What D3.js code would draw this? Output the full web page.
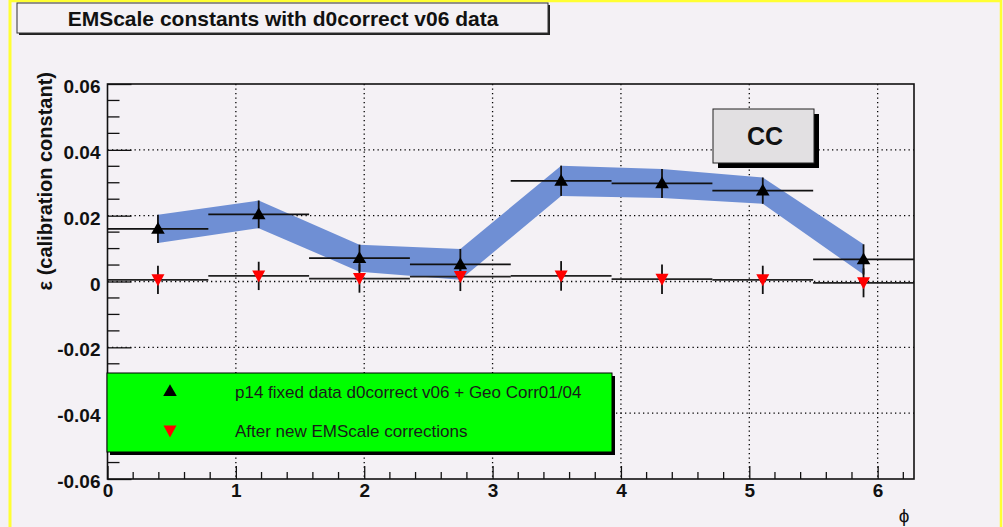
<!DOCTYPE html>
<html>
<head>
<meta charset="utf-8">
<script src="https://cdn.jsdelivr.net/npm/d3@7"></script>
<style>
  html, body { margin: 0; padding: 0; background: #f4f1f5; }
  svg { display: block; }
</style>
</head>
<body>
<svg id="chart" width="1003" height="527"></svg>
<script>
// EM scale calibration constants per phi bin (CC)
const phiCenters = [0.393, 1.178, 1.963, 2.749, 3.534, 4.320, 5.105, 5.890];
const binHalfWidth = 0.3927;

const beforeValues = [0.0160, 0.0204, 0.0071, 0.0052, 0.0306, 0.0298, 0.0276, 0.0067];
const beforeErrors = [0.0043, 0.0042, 0.0041, 0.0047, 0.0046, 0.0044, 0.0040, 0.0046];

const afterValues = [0.0005, 0.0017, 0.0009, 0.0015, 0.0017, 0.0007, 0.0005, -0.0004];
const afterErrors = [0.0043, 0.0043, 0.0043, 0.0044, 0.0045, 0.0045, 0.0043, 0.0044];

const yTickValues = [-0.06, -0.04, -0.02, 0, 0.02, 0.04, 0.06];
const yTickLabels = ["-0.06", "-0.04", "-0.02", "0", "0.02", "0.04", "0.06"];
const xTickValues = [0, 1, 2, 3, 4, 5, 6];
const xTickLabels = ["0", "1", "2", "3", "4", "5", "6"];

const legendLabels = ["p14 fixed data d0correct v06 + Geo Corr01/04", "After new EMScale corrections"];
const titleText = "EMScale constants with d0correct v06 data";
const boxText = "CC";
const yTitle = "\u03b5 (calibration constant)";
const xTitle = "\u03d5";

const svg = d3.select("#chart");
const font = "'Liberation Sans', Arial, Helvetica, sans-serif";

const frame = { left: 107.5, right: 914, top: 84, bottom: 479 };
const x = d3.scaleLinear().domain([0, 2 * Math.PI]).range([frame.left, frame.right]);
const y = d3.scaleLinear().domain([-0.06, 0.06]).range([frame.bottom, frame.top]);

// canvas background and border
svg.append("rect").attr("width", 1003).attr("height", 527).attr("fill", "#f4f1f5");
svg.append("line").attr("x1", 10).attr("x2", 1001).attr("y1", 1).attr("y2", 1)
  .attr("stroke", "#ffff33").attr("stroke-width", 2.5);
svg.append("line").attr("x1", 10).attr("x2", 10).attr("y1", 0).attr("y2", 527)
  .attr("stroke", "#ffff33").attr("stroke-width", 3);
svg.append("line").attr("x1", 1001).attr("x2", 1001).attr("y1", 0).attr("y2", 527)
  .attr("stroke", "#ffff33").attr("stroke-width", 2.5);

// dotted grid
const grid = svg.append("g").attr("stroke", "#000").attr("stroke-width", 1.3)
  .attr("stroke-dasharray", "1.3,3.2");
grid.selectAll(".gx").data(xTickValues.filter(v => v > 0)).join("line")
  .attr("x1", d => x(d)).attr("x2", d => x(d))
  .attr("y1", frame.top).attr("y2", frame.bottom);
grid.selectAll(".gy").data(yTickValues.filter(v => v > -0.06 && v < 0.06)).join("line")
  .attr("x1", frame.left).attr("x2", frame.right)
  .attr("y1", d => y(d)).attr("y2", d => y(d));

// uncertainty band around the uncorrected constants
const bandData = phiCenters.map((p, i) => ({ p, lo: beforeValues[i] - beforeErrors[i], hi: beforeValues[i] + beforeErrors[i] }));
svg.append("path").datum(bandData)
  .attr("d", d3.area().x(d => x(d.p)).y0(d => y(d.lo)).y1(d => y(d.hi)))
  .attr("fill", "#6f8fd4");

// error bars for a series
function drawSeries(values, errors, hColor) {
  const g = svg.append("g");
  g.selectAll(".h").data(values).join("line")
    .attr("x1", (d, i) => x(phiCenters[i] - binHalfWidth))
    .attr("x2", (d, i) => x(phiCenters[i] + binHalfWidth))
    .attr("y1", d => y(d)).attr("y2", d => y(d))
    .attr("stroke", hColor).attr("stroke-width", 1.8);
  g.selectAll(".v").data(values).join("line")
    .attr("x1", (d, i) => x(phiCenters[i])).attr("x2", (d, i) => x(phiCenters[i]))
    .attr("y1", (d, i) => y(d - errors[i])).attr("y2", (d, i) => y(d + errors[i]))
    .attr("stroke", "#111").attr("stroke-width", 1.8);
  return g;
}

const upTri = d3.symbol().type(d3.symbolTriangle).size(80);
const downTri = "M-6.5,-5.5L6.5,-5.5L0,6.5Z";

drawSeries(afterValues, afterErrors, "#222");
drawSeries(beforeValues, beforeErrors, "#111");

svg.append("g").selectAll("path").data(afterValues).join("path")
  .attr("transform", (d, i) => `translate(${x(phiCenters[i])},${y(d)})`)
  .attr("d", downTri).attr("fill", "#ff0000");
svg.append("g").selectAll("path").data(beforeValues).join("path")
  .attr("transform", (d, i) => `translate(${x(phiCenters[i])},${y(d) + 1})`)
  .attr("d", upTri).attr("fill", "#000");

// frame
svg.append("rect").attr("x", frame.left).attr("y", frame.top)
  .attr("width", frame.right - frame.left).attr("height", frame.bottom - frame.top)
  .attr("fill", "none").attr("stroke", "#111").attr("stroke-width", 1.6);

// x axis ticks (inside the frame)
const xAxis = d3.axisBottom(x).tickValues(xTickValues).tickFormat((d, i) => xTickLabels[i])
  .tickSizeInner(-13).tickSizeOuter(0).tickPadding(5);
const gx = svg.append("g").attr("transform", `translate(0,${frame.bottom})`).call(xAxis);
gx.select(".domain").remove();
gx.selectAll("line").attr("stroke", "#111").attr("stroke-width", 1.3);
gx.selectAll("text").attr("font-family", font).attr("font-weight", "bold")
  .attr("font-size", 19).attr("fill", "#111");
const xMinor = d3.range(0, 63).map(k => k * 0.1).filter(v => Math.abs(v * 5 - Math.round(v * 5)) < 1e-6 && Math.abs(v - Math.round(v)) > 1e-6 && v < 2 * Math.PI);
svg.append("g").selectAll("line").data(xMinor).join("line")
  .attr("x1", d => x(d)).attr("x2", d => x(d))
  .attr("y1", frame.bottom).attr("y2", frame.bottom - 7)
  .attr("stroke", "#111").attr("stroke-width", 1.3);

// y axis ticks (inside the frame)
const yAxis = d3.axisLeft(y).tickValues(yTickValues).tickFormat((d, i) => yTickLabels[i])
  .tickSizeInner(-24).tickSizeOuter(0).tickPadding(7);
const gy = svg.append("g").attr("transform", `translate(${frame.left},0)`).call(yAxis);
gy.select(".domain").remove();
gy.selectAll("line").attr("stroke", "#111").attr("stroke-width", 1.3);
gy.selectAll("text").attr("font-family", font).attr("font-weight", "bold")
  .attr("font-size", 19).attr("fill", "#111").attr("dy", "0.45em");
const yMinor = d3.range(-12, 13).filter(k => k % 4 !== 0).map(k => k * 0.005);
svg.append("g").selectAll("line").data(yMinor).join("line")
  .attr("x1", frame.left).attr("x2", frame.left + 12)
  .attr("y1", d => y(d)).attr("y2", d => y(d))
  .attr("stroke", "#111").attr("stroke-width", 1.3);

// axis titles
svg.append("text").attr("transform", `translate(52,${frame.top - 12}) rotate(-90)`)
  .attr("text-anchor", "end").attr("font-family", font).attr("font-weight", "bold")
  .attr("font-size", 20).attr("fill", "#111").text(yTitle);
svg.append("text").attr("x", 904).attr("y", 522).attr("text-anchor", "middle")
  .attr("font-family", font).attr("font-size", 19).attr("fill", "#111").text(xTitle);

// legend
const leg = { x: 107, y: 373, w: 505, h: 79 };
svg.append("rect").attr("x", leg.x + 3).attr("y", leg.y + 3).attr("width", leg.w).attr("height", leg.h).attr("fill", "#000");
svg.append("rect").attr("x", leg.x).attr("y", leg.y).attr("width", leg.w).attr("height", leg.h)
  .attr("fill", "#00ff00").attr("stroke", "#000").attr("stroke-width", 1);
const legRows = [
  { label: legendLabels[0], shape: upTri(), color: "#000", cy: 392 },
  { label: legendLabels[1], shape: downTri, color: "#ff0000", cy: 431 }
];
legRows.forEach(r => {
  svg.append("path").attr("d", r.shape).attr("fill", r.color)
    .attr("transform", `translate(170,${r.cy})`);
  svg.append("text").attr("x", 235).attr("y", r.cy + 6)
    .attr("font-family", font).attr("font-size", 17).attr("fill", "#1a1a1a").text(r.label);
});

// region label box
svg.append("rect").attr("x", 718).attr("y", 114).attr("width", 101).attr("height", 54).attr("fill", "#000");
svg.append("rect").attr("x", 713).attr("y", 109).attr("width", 101).attr("height", 54)
  .attr("fill", "#e2e0e2").attr("stroke", "#222").attr("stroke-width", 1);
svg.append("text").attr("x", 765).attr("y", 145).attr("text-anchor", "middle")
  .attr("font-family", font).attr("font-weight", "bold").attr("font-size", 25).attr("fill", "#111").text(boxText);

// title box
svg.append("rect").attr("x", 19).attr("y", 5).attr("width", 531).attr("height", 30).attr("fill", "#222");
svg.append("rect").attr("x", 17).attr("y", 3).attr("width", 531).attr("height", 30)
  .attr("fill", "#f4f1f5").attr("stroke", "#333").attr("stroke-width", 1);
svg.append("text").attr("x", 283).attr("y", 26).attr("text-anchor", "middle")
  .attr("font-family", font).attr("font-weight", "bold").attr("font-size", 21).attr("fill", "#111").text(titleText);
</script>
</body>
</html>
